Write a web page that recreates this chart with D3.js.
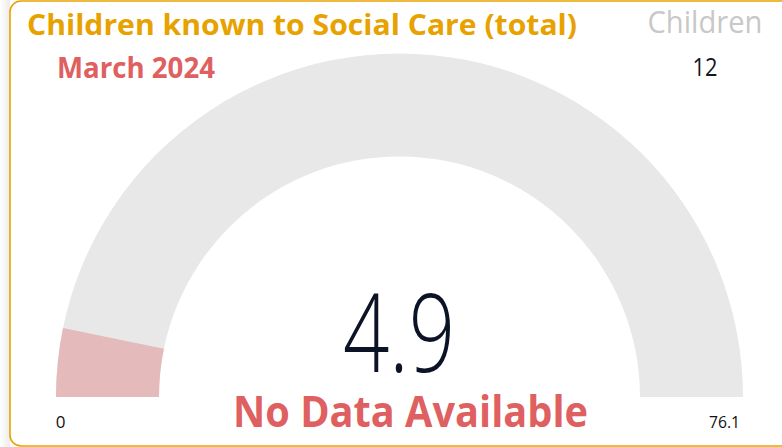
<!DOCTYPE html>
<html><head><meta charset="utf-8">
<script src="https://cdn.jsdelivr.net/npm/d3@7"></script>
<style>html,body{margin:0;padding:0;background:#fff;overflow:hidden}</style>
</head><body>
<svg id="c" width="782" height="447"></svg>
<script>
const titleText = "Children known to Social Care (total)";
const periodLabel = "March 2024";
const gaugeMin = [0];
const gaugeMax = [76.1];
const gaugeValue = [4.9];
const targetLabel = ["Children"];
const targetValue = [12];
const noDataText = "No Data Available";

const svg = d3.select("#c");
const defs = svg.append("defs");
const g = defs.append("linearGradient").attr("id","sh").attr("x1","0").attr("x2","1");
g.append("stop").attr("offset","0").attr("stop-color","#fff");
g.append("stop").attr("offset","1").attr("stop-color","#ececec");
svg.append("rect").attr("x",0).attr("y",0).attr("width",10).attr("height",447).attr("fill","url(#sh)");
svg.append("rect").attr("x",10).attr("y",1).attr("width",790).attr("height",445).attr("rx",11)
  .attr("fill","#fff").attr("stroke","#E8A200").attr("stroke-width",1.6);

const cx = 399.5, cy = 397, rOut = 343.5, rIn = 240.5;
const ang = d3.scaleLinear().domain([gaugeMin[0], gaugeMax[0]]).range([-Math.PI/2, Math.PI/2]);
const arc = d3.arc().innerRadius(rIn).outerRadius(rOut);
const gg = svg.append("g").attr("transform",`translate(${cx},${cy})`);
gg.append("path").attr("d", arc({startAngle: ang(gaugeMin[0]), endAngle: ang(gaugeMax[0])})).attr("fill","#E8E8E8");
gg.append("path").attr("d", arc({startAngle: ang(gaugeMin[0]), endAngle: ang(gaugeValue[0])})).attr("fill","#E4BABB");

function txt(x,y,s,opt){
  const t = svg.append("text").attr("x",x).attr("y",y).text(s)
    .attr("font-family", opt.ff || "'Open Sans', sans-serif")
    .attr("font-size", opt.fs).attr("font-weight", opt.fw||400)
    .attr("fill", opt.fill).attr("text-anchor", opt.anchor||"start");
  if (opt.len) t.attr("textLength", opt.len).attr("lengthAdjust","spacingAndGlyphs");
  return t;
}
txt(27, 35, titleText, {fs:29, fw:700, fill:"#E8A200", len:550});
txt(57, 78, periodLabel, {fs:28, fw:700, fill:"#DF6060", len:158});
txt(705, 33, targetLabel[0], {fs:31, fw:400, fill:"#C8C8C8", anchor:"middle", len:115});
txt(705, 76, targetValue[0], {fs:26, fw:400, fill:"#111827", anchor:"middle", len:25});
txt(399, 372, d3.format(".1f")(gaugeValue[0]), {fs:108, fw:300, fill:"#0D1326", anchor:"middle", len:112});
txt(410.5, 427, noDataText, {fs:43, fw:700, fill:"#DF6060", anchor:"middle", len:355});
txt(60.5, 428, d3.format("")(gaugeMin[0]), {fs:17, fw:400, fill:"#111", anchor:"middle"});
txt(724.5, 428, d3.format(".1f")(gaugeMax[0]), {fs:17, fw:400, fill:"#111", anchor:"middle", len:31});
</script>
</body></html>
